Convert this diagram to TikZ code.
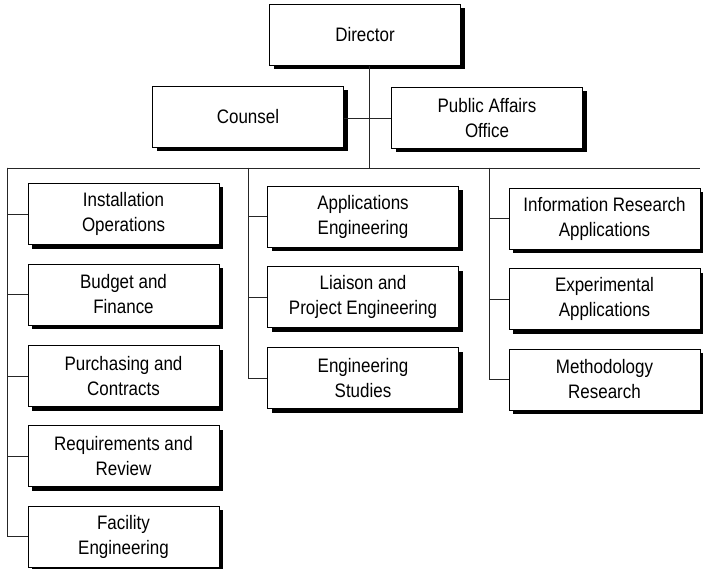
\documentclass[tikz,border=0pt]{standalone}
\usepackage{fontspec}
\setmainfont{Liberation Sans}[FakeStretch=0.87]
\usetikzlibrary{shadows}
\begin{document}
\begin{tikzpicture}[x=1pt,y=-1pt,
  orgbox/.style={draw=black,line width=0.9pt,fill=white,inner sep=0pt,
    minimum width=191pt,minimum height=61pt,align=center,
    font=\fontsize{19.5}{25}\selectfont,
    drop shadow={shadow xshift=4pt,shadow yshift=-4pt,fill=black,opacity=1}},
  link/.style={draw=black!85,line width=0.8pt}]
\useasboundingbox (0,0) rectangle (703,569);
% top level
\node[orgbox] (dir) at (365,35) {Director};
\node[orgbox] (cou) at (248,117) {Counsel};
\node[orgbox] (pa) at (487,118) {Public Affairs\\Office};
% column 1
\node[orgbox] (inst) at (123.5,214) {Installation\\Operations};
\node[orgbox] (bud) at (123.5,294.5) {Budget and\\Finance};
\node[orgbox] (pur) at (123.5,376) {Purchasing and\\Contracts};
\node[orgbox] (req) at (123.5,456) {Requirements and\\Review};
\node[orgbox] (fac) at (123.5,536.5) {Facility\\Engineering};
% column 2
\node[orgbox] (app) at (363,216.5) {Applications\\Engineering};
\node[orgbox] (lia) at (363,297) {Liaison and\\Project Engineering};
\node[orgbox] (eng) at (363,378) {Engineering\\Studies};
% column 3
\node[orgbox] (inf) at (604.5,218.5) {Information Research\\Applications};
\node[orgbox] (exp) at (604.5,299) {Experimental\\Applications};
\node[orgbox] (met) at (604.5,379.5) {Methodology\\Research};
% connectors
\coordinate (bL) at (7,168);
\coordinate (bR) at (700,168);
\coordinate (b2) at (248,168);
\coordinate (b3) at (489,168);
\coordinate (cp) at (369,118);
\draw[link] (bL) -- (bR);
\draw[link] (dir.south -| cp) -- (cp |- bL);
\draw[link] (cou.east |- cp) -- (pa.west |- cp);
\foreach \n in {inst,bud,pur,req,fac} \draw[link] (bL) |- (\n.west);
\foreach \n in {app,lia,eng} \draw[link] (b2) |- (\n.west);
\foreach \n in {inf,exp,met} \draw[link] (b3) |- (\n.west);
\end{tikzpicture}
\end{document}
